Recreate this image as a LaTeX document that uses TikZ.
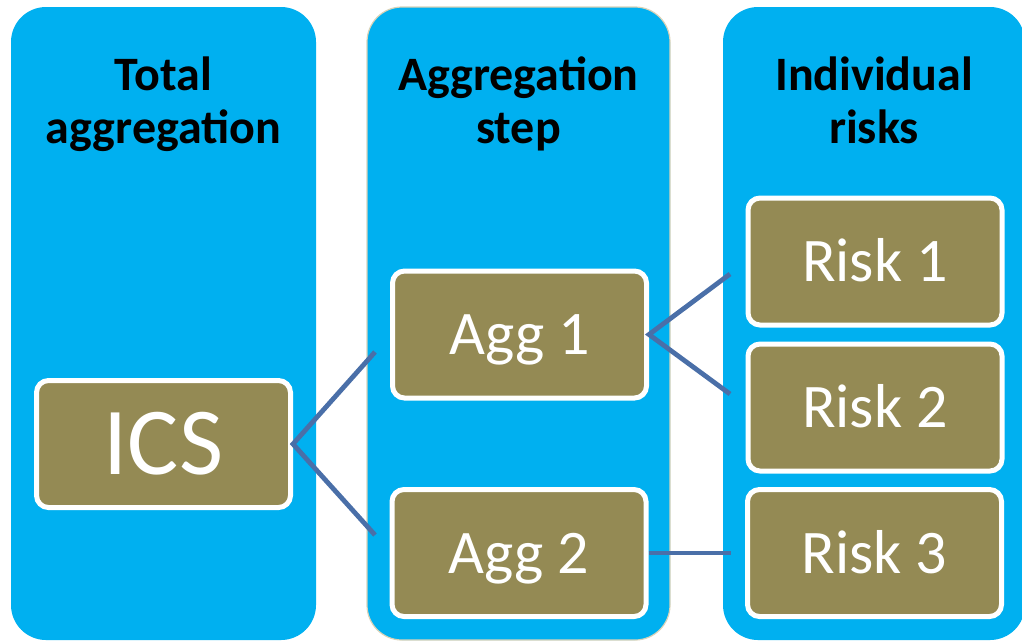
\documentclass[tikz,border=0pt]{standalone}
\usepackage{fontspec}
\setmainfont{Carlito}
\definecolor{colblue}{HTML}{00B0F0}
\definecolor{khaki}{HTML}{948A54}
\definecolor{linkblue}{HTML}{4A6FA8}
\definecolor{tanedge}{HTML}{D9D3B8}
\tikzset{
  column/.style={fill=colblue, draw=none, rounded corners=35pt, inner sep=0pt, minimum width=305pt, minimum height=633pt},
  coltitle/.style={anchor=base, align=center, inner sep=0pt, text=black, font=\fontsize{48}{53}\selectfont\bfseries},
  riskbox/.style={fill=khaki, draw=white, line width=5pt, rounded corners=12pt, text=white, inner sep=0pt,
    minimum width=254pt, minimum height=127pt, text height=40pt, text depth=0pt, font=\fontsize{62}{62}\selectfont},
  bigbox/.style={riskbox, text height=61pt, font=\fontsize{96}{96}\selectfont},
  link/.style={draw=linkblue, line width=4.8pt}
}
\begin{document}
\begin{tikzpicture}[x=1pt,y=-1pt]
\useasboundingbox (0,0) rectangle (1022,641);
% columns
\node[column] (col1) at (163.5,323.5) {};
\node[column, draw=tanedge, line width=1.2pt, minimum width=303pt] (col2) at (518.5,323.5) {};
\node[column, minimum width=302pt] (col3) at (874,323.5) {};
% titles
\node[coltitle] (t1) at (163.5,143) {Total\\aggregation};
\node[coltitle] (t2) at (518.5,143) {Aggregation\\step};
\node[coltitle] (t3) at (874,143) {Individual\\risks};
% boxes
\node[bigbox] (ics) at (163.5,444) {ICS};
\node[riskbox] (agg1) at (519.5,334.5) {Agg 1};
\node[riskbox] (agg2) at (519,553) {Agg 2};
\node[riskbox] (r1) at (875,261.5) {Risk 1};
\node[riskbox] (r2) at (875,407.5) {Risk 2};
\node[riskbox] (r3) at (874.5,553) {Risk 3};
% free ends
\coordinate (e1) at (375,352);
\coordinate (e2) at (375,535);
\coordinate (e3) at (730,274);
\coordinate (e4) at (730,394);
\coordinate (e5) at (731,553);
% connectors
\draw[link] (e1) -- (ics.east) -- (e2);
\draw[link] (e3) -- (agg1.east) -- (e4);
\draw[link] (agg2.east) -- (e5);
\end{tikzpicture}
\end{document}
